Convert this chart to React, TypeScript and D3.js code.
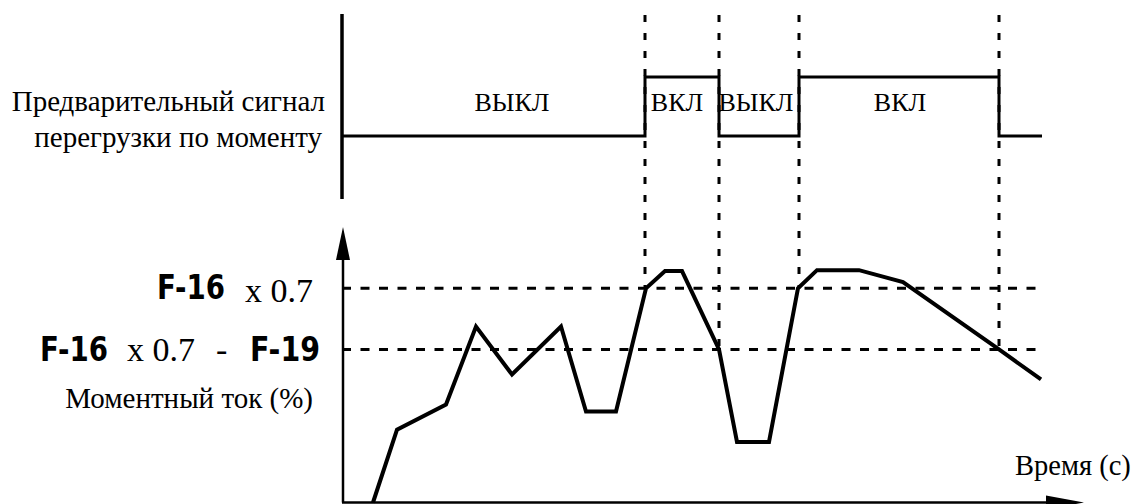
import React from 'react';
import * as d3 from 'd3';

// ---- data ----
const timeDomain: [number, number] = [0, 70]; // time axis (s, arbitrary)
const currentDomain: [number, number] = [0, 90]; // torque current (%)
const thresholdHigh = 70; // F-16 x 0.7
const thresholdLow = 50; // F-16 x 0.7 - F-19

const curveTimes = [3.1, 5.5, 10.4, 13.4, 17, 21.9, 24.4, 27.4, 30.4, 32.3, 34, 37.7, 39.5, 42.7, 45.6, 47.5, 51.7, 56.1, 65.7, 69.9];
const curveValues = [0, 23.8, 32, 57.5, 41.8, 57.5, 29.7, 29.7, 70, 75.6, 75.6, 50, 19.8, 19.8, 70, 75.9, 75.9, 72, 50, 40.2];

const initialState = 0;
const switchTimes = [30.3, 37.7, 45.7, 65.7];
const switchStates = [1, 0, 1, 0];
const signalEnd = 70;

const stateLabels = ['ВЫКЛ', 'ВКЛ', 'ВЫКЛ', 'ВКЛ'];
const stateLabelTimes = [17, 33.5, 41.4, 55.8];

const W = 1133;
const H = 504;

const serifStyle: React.CSSProperties = { fontFamily: 'Liberation Serif' };
const segStyle: React.CSSProperties = { fontFamily: 'DejaVu Sans', fontWeight: 700 };

export default function App() {
  const x = d3.scaleLinear().domain(timeDomain).range([342, 1042]);
  const yCur = d3.scaleLinear().domain(currentDomain).range([502.5, 227]);
  const ySig = d3.scaleLinear().domain([0, 1]).range([136, 77]);

  const curvePts: [number, number][] = curveTimes.map((t, i) => [t, curveValues[i]]);
  const curveLine = d3
    .line<[number, number]>()
    .x((d) => x(d[0]))
    .y((d) => yCur(d[1]));

  const sigPts: [number, number][] = [[timeDomain[0], initialState]];
  switchTimes.forEach((t, i) => sigPts.push([t, switchStates[i]]));
  sigPts.push([signalEnd, switchStates[switchStates.length - 1]]);
  const sigLine = d3
    .line<[number, number]>()
    .x((d) => x(d[0]))
    .y((d) => ySig(d[1]))
    .curve(d3.curveStepAfter);

  const x0 = x(timeDomain[0]);
  const axisBottom = yCur(0);
  const axisTop = yCur(currentDomain[1]);
  const xEnd = x(timeDomain[1]);

  return (
    <svg width={W} height={H} style={{ position: 'absolute', left: 0, top: 0, background: '#fff' }}>
      {/* top panel axis */}
      <line x1={x0} x2={x0} y1={14} y2={199} stroke="#000" strokeWidth={3.5} />

      {/* vertical dashed switch lines */}
      {switchTimes.map((t, i) => (
        <line
          key={'v' + i}
          x1={x(t)}
          x2={x(t)}
          y1={15}
          y2={yCur(switchStates[i] === 1 ? thresholdHigh : thresholdLow)}
          stroke="#000"
          strokeWidth={3}
          strokeDasharray="7,11"
        />
      ))}

      {/* signal */}
      <path d={sigLine(sigPts) || ''} fill="none" stroke="#000" strokeWidth={3} />

      {stateLabels.map((s, i) => (
        <text
          key={'s' + i}
          x={x(stateLabelTimes[i])}
          y={111}
          textAnchor="middle"
          style={serifStyle}
          fontSize={26}
          fill="#000"
        >
          {s}
        </text>
      ))}

      <text x={325} y={111} textAnchor="end" style={serifStyle} fontSize={29} fill="#000">
        Предварительный сигнал
      </text>
      <text x={322} y={147} textAnchor="end" style={serifStyle} fontSize={29} fill="#000">
        перегрузки по моменту
      </text>

      {/* threshold dashed lines */}
      {[thresholdHigh, thresholdLow].map((v, i) => (
        <line
          key={'h' + i}
          x1={x0}
          x2={xEnd}
          y1={yCur(v)}
          y2={yCur(v)}
          stroke="#000"
          strokeWidth={3}
          strokeDasharray="9,9.5"
        />
      ))}

      {/* bottom axes */}
      <line x1={x0 + 1} x2={x0 + 1} y1={axisTop + 20} y2={axisBottom} stroke="#000" strokeWidth={2.5} />
      <path
        d={`M${x0 + 1},${axisTop} L${x0 + 8},${axisTop + 33} L${x0 - 6},${axisTop + 33} Z`}
        fill="#000"
      />
      <line x1={x0} x2={1060} y1={axisBottom} y2={axisBottom} stroke="#000" strokeWidth={2.5} />
      <path d={`M1084,${axisBottom} L1046,${axisBottom - 7} L1046,${axisBottom + 7} Z`} fill="#000" />

      {/* torque current curve */}
      <path d={curveLine(curvePts) || ''} fill="none" stroke="#000" strokeWidth={4} strokeLinejoin="miter" />

      {/* left labels */}
      <text x={157} y={299} style={segStyle} fontSize={33} textLength={68} lengthAdjust="spacingAndGlyphs" fill="#000">
        F-16
      </text>
      <text x={245} y={302} style={serifStyle} fontSize={34} fill="#000">
        x 0.7
      </text>

      <text x={40} y={361} style={segStyle} fontSize={33} textLength={68} lengthAdjust="spacingAndGlyphs" fill="#000">
        F-16
      </text>
      <text x={127} y={361} style={serifStyle} fontSize={34} fill="#000">
        x 0.7
      </text>
      <text x={216} y={361} style={serifStyle} fontSize={34} fill="#000">
        -
      </text>
      <text x={250} y={361} style={segStyle} fontSize={33} textLength={70} lengthAdjust="spacingAndGlyphs" fill="#000">
        F-19
      </text>

      <text x={313} y={408} textAnchor="end" style={serifStyle} fontSize={29} fill="#000">
        Моментный ток (%)
      </text>

      <text x={1015} y={475} style={serifStyle} fontSize={28.5} fill="#000">
        Время (с)
      </text>
    </svg>
  );
}
